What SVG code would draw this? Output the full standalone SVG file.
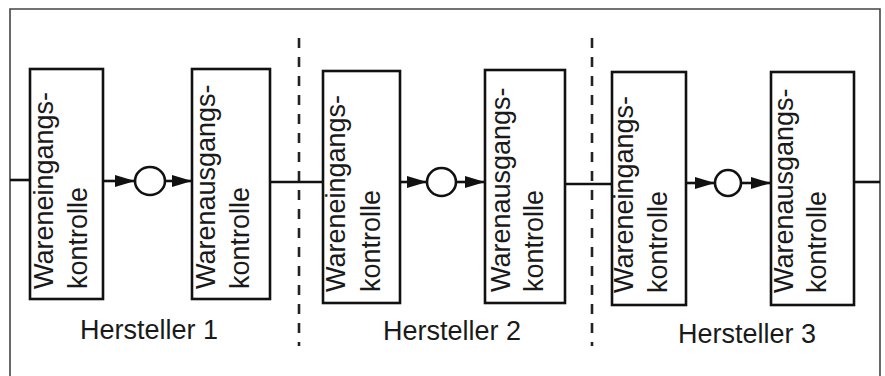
<svg xmlns="http://www.w3.org/2000/svg" width="885" height="376" viewBox="0 0 885 376">
  <style>
    .frame { fill: none; stroke: #444; stroke-width: 1.6; }
    .box { fill: #fff; stroke: #111; stroke-width: 2.6; }
    .wire { fill: none; stroke: #111; stroke-width: 2.6; }
    .flow { fill: none; stroke: #111; stroke-width: 2.6; marker-end: url(#tri); }
    .store { fill: #fff; stroke: #111; stroke-width: 2.6; }
    .sep { fill: none; stroke: #222; stroke-width: 2.6; stroke-dasharray: 10 9; }
    .lbl { font-family: "Liberation Sans", Arial, sans-serif; font-size: 27px; fill: #1a1a1a; }
    .cap { font-family: "Liberation Sans", Arial, sans-serif; font-size: 27px; fill: #1a1a1a; text-anchor: middle; }
  </style>
  <defs>
    <marker id="tri" viewBox="0 0 20 12" refX="20" refY="6" markerWidth="20" markerHeight="12" markerUnits="userSpaceOnUse" orient="auto">
      <path d="M0,0 L20,6 L0,12 z" fill="#111"/>
    </marker>
  </defs>

  <rect width="885" height="376" fill="#fff"/>

  <!-- outer frame, open at the bottom -->
  <path class="frame" d="M10,376 V9 H880 V376"/>

  <!-- boundaries between manufacturers -->
  <g id="separators">
    <line class="sep" x1="299" y1="38" x2="299" y2="346"/>
    <line class="sep" x1="592" y1="38" x2="592" y2="346"/>
  </g>

  <!-- connectors -->
  <g id="connectors">
    <line class="wire" x1="10" y1="180" x2="30" y2="180"/>
    <line class="flow" x1="103" y1="181" x2="135" y2="181"/>
    <line class="flow" x1="165" y1="181" x2="192" y2="181"/>
    <line class="wire" x1="270" y1="182" x2="323" y2="182"/>
    <line class="flow" x1="400" y1="182" x2="427" y2="182"/>
    <line class="flow" x1="456" y1="182" x2="485" y2="182"/>
    <line class="wire" x1="565" y1="184" x2="612" y2="184"/>
    <line class="flow" x1="686" y1="183" x2="715" y2="183"/>
    <line class="flow" x1="741" y1="183" x2="771" y2="183"/>
    <line class="wire" x1="854" y1="182" x2="880" y2="182"/>
  </g>

  <!-- Hersteller 1 -->
  <g id="h1-eingang">
    <rect class="box" x="30" y="69" width="73" height="230"/>
    <text class="lbl" transform="translate(53,289) rotate(-90)">Wareneingangs-</text>
    <text class="lbl" transform="translate(87,289) rotate(-90)">kontrolle</text>
  </g>
  <g id="h1-lager"><ellipse class="store" cx="150" cy="181" rx="15" ry="14"/></g>
  <g id="h1-ausgang">
    <rect class="box" x="192" y="69" width="78" height="230"/>
    <text class="lbl" transform="translate(215,289) rotate(-90)">Warenausgangs-</text>
    <text class="lbl" transform="translate(249,289) rotate(-90)">kontrolle</text>
  </g>
  <g id="h1-label"><text class="cap" x="149" y="339">Hersteller 1</text></g>

  <!-- Hersteller 2 -->
  <g id="h2-eingang">
    <rect class="box" x="323" y="71" width="77" height="232"/>
    <text class="lbl" transform="translate(345,292) rotate(-90)">Wareneingangs-</text>
    <text class="lbl" transform="translate(380,292) rotate(-90)">kontrolle</text>
  </g>
  <g id="h2-lager"><ellipse class="store" cx="441.5" cy="182" rx="14.5" ry="14"/></g>
  <g id="h2-ausgang">
    <rect class="box" x="485" y="70" width="80" height="233"/>
    <text class="lbl" transform="translate(510,292) rotate(-90)">Warenausgangs-</text>
    <text class="lbl" transform="translate(543,292) rotate(-90)">kontrolle</text>
  </g>
  <g id="h2-label"><text class="cap" x="452" y="340">Hersteller 2</text></g>

  <!-- Hersteller 3 -->
  <g id="h3-eingang">
    <rect class="box" x="612" y="72" width="74" height="233"/>
    <text class="lbl" transform="translate(633,293) rotate(-90)">Wareneingangs-</text>
    <text class="lbl" transform="translate(667,293) rotate(-90)">kontrolle</text>
  </g>
  <g id="h3-lager"><ellipse class="store" cx="728" cy="183" rx="13" ry="13"/></g>
  <g id="h3-ausgang">
    <rect class="box" x="771" y="72" width="83" height="233"/>
    <text class="lbl" transform="translate(793,293) rotate(-90)">Warenausgangs-</text>
    <text class="lbl" transform="translate(826,293) rotate(-90)">kontrolle</text>
  </g>
  <g id="h3-label"><text class="cap" x="747" y="343">Hersteller 3</text></g>
</svg>
